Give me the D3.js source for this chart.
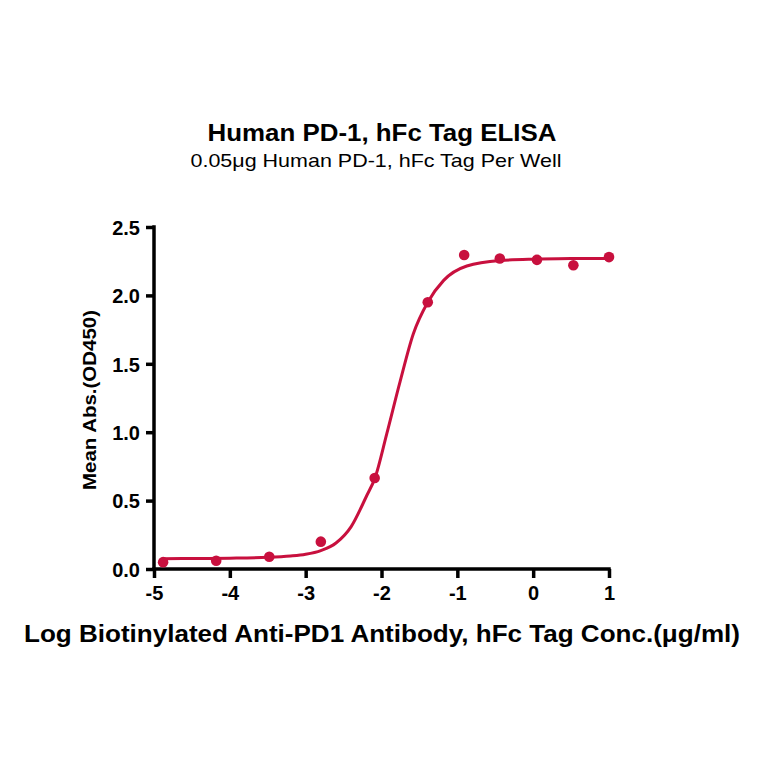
<!DOCTYPE html>
<html><head><meta charset="utf-8">
<script src="https://cdn.jsdelivr.net/npm/d3@7"></script>
<style>body{margin:0;background:#fff}svg{display:block}</style>
</head><body>
<svg id="c" width="764" height="764"></svg>
<script>
const logConc = [-4.88, -4.18, -3.48, -2.80, -2.09, -1.39, -0.91, -0.44, 0.05, 0.53, 1.00];
const meanAbs = [0.05, 0.06, 0.09, 0.20, 0.665, 1.95, 2.295, 2.27, 2.26, 2.22, 2.28];
const fitX = [-4.88, -4.4, -4.0, -3.5, -3.2, -3.0, -2.8, -2.6, -2.4, -2.2, -2.085, -1.93, -1.755, -1.58, -1.39, -1.18, -0.875, -0.435, 0.05, 0.5, 1.0];
const fitY = [0.075, 0.077, 0.079, 0.085, 0.095, 0.108, 0.135, 0.19, 0.31, 0.53, 0.667, 0.99, 1.37, 1.72, 1.95, 2.11, 2.215, 2.255, 2.265, 2.27, 2.27];
const xTicks = [-5, -4, -3, -2, -1, 0, 1];
const yTicks = [0, 0.5, 1.0, 1.5, 2.0, 2.5];
const title = "Human PD-1, hFc Tag ELISA";
const subtitle = "0.05\u03bcg Human PD-1, hFc Tag Per Well";
const xTitle = "Log Biotinylated Anti-PD1 Antibody, hFc Tag Conc.(\u03bcg/ml)";
const yTitle = "Mean Abs.(OD450)";

const color = "#C8103E";
const font = "'Liberation Sans', Arial, sans-serif";
const svg = d3.select("#c");
const x = d3.scaleLinear().domain([-5, 1]).range([154, 609]);
const y = d3.scaleLinear().domain([0, 2.5]).range([569, 227]);

// axes
const xAxis = svg.append("g").attr("transform", "translate(0,569)")
  .call(d3.axisBottom(x).tickValues(xTicks).tickFormat(d => String(d)).tickSize(9).tickPadding(8).tickSizeOuter(0));
const yAxis = svg.append("g").attr("transform", "translate(154,0)")
  .call(d3.axisLeft(y).tickValues(yTicks).tickFormat(d => d.toFixed(1)).tickSize(8).tickPadding(6).tickSizeOuter(0));
[xAxis, yAxis].forEach(g => {
  g.attr("font-size", null).attr("font-family", null);
  g.select(".domain").style("stroke", "#000").style("stroke-width", "3.5px");
  g.selectAll(".tick line").style("stroke", "#000").style("stroke-width", "3.5px");
  g.selectAll(".tick text").style("fill", "#000").style("font-family", font)
    .style("font-weight", "bold").style("font-size", "20px");
});
xAxis.select(".domain").attr("d", "M152.25,0H610.75");
yAxis.select(".domain").attr("d", "M0,225.25V570.75");
xAxis.selectAll(".tick text").attr("dy", "0.72em");
yAxis.selectAll(".tick text").attr("dy", "0.36em");

// fit curve
const pts = fitX.map((v, i) => [v, fitY[i]]);
svg.append("path").datum(pts)
  .attr("d", d3.line().x(d => x(d[0])).y(d => y(d[1])).curve(d3.curveMonotoneX))
  .attr("fill", "none").attr("stroke", color).attr("stroke-width", 3);

// points
svg.append("g").selectAll("circle").data(logConc).join("circle")
  .attr("cx", d => x(d)).attr("cy", (d, i) => y(meanAbs[i])).attr("r", 5.3).attr("fill", color);

// texts
svg.append("text").attr("x", 382).attr("y", 141).attr("text-anchor", "middle")
  .attr("font-family", font).attr("font-weight", "bold").attr("font-size", 23)
  .attr("textLength", 349).attr("lengthAdjust", "spacingAndGlyphs").text(title);
svg.append("text").attr("x", 376).attr("y", 167).attr("text-anchor", "middle")
  .attr("font-family", font).attr("font-size", 18.5)
  .attr("textLength", 371).attr("lengthAdjust", "spacingAndGlyphs").text(subtitle);
svg.append("text").attr("x", 382).attr("y", 642).attr("text-anchor", "middle")
  .attr("font-family", font).attr("font-weight", "bold").attr("font-size", 23)
  .attr("textLength", 716).attr("lengthAdjust", "spacingAndGlyphs").text(xTitle);
svg.append("text").attr("transform", "translate(96,400) rotate(-90)").attr("text-anchor", "middle")
  .attr("font-family", font).attr("font-weight", "bold").attr("font-size", 18.5)
  .attr("textLength", 180).attr("lengthAdjust", "spacingAndGlyphs").text(yTitle);
</script>
</body></html>
